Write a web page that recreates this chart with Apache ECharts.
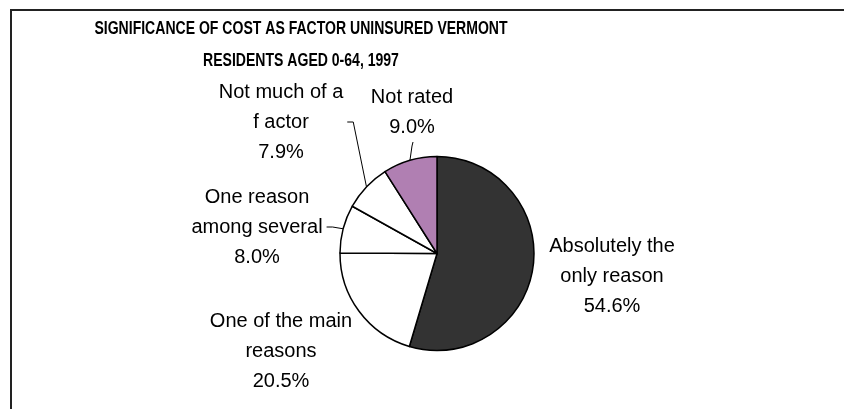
<!DOCTYPE html>
<html>
<head>
<meta charset="utf-8">
<script src="https://cdn.jsdelivr.net/npm/echarts@6/dist/echarts.min.js"></script>
<style>
  html, body { margin: 0; padding: 0; background: #fff; }
  #main { width: 844px; height: 409px; }
</style>
</head>
<body>
<div id="main"></div>
<script>
// categories and shares (%), clockwise from 12 o'clock
var categories = [
  'Absolutely the\nonly reason',
  'One of the main\nreasons',
  'One reason\namong several',
  'Not much of a\nf actor',
  'Not rated'
];
var shares = [54.6, 20.5, 8.0, 7.9, 9.0];
var titleLines = [
  'SIGNIFICANCE OF COST AS FACTOR UNINSURED VERMONT',
  'RESIDENTS AGED 0-64, 1997'
];
var sliceColors = ['#333333', '#ffffff', '#ffffff', '#ffffff', '#b07fb2'];

// label centres (px) for each slice
var labelPos = [[612, 276], [281, 351], [257, 227], [281, 122], [412, 112]];
// which side of the label the leader line meets: none / right / bottom
var leaderSide = ['none', 'none', 'right', 'right', 'bottom'];

var chart = echarts.init(document.getElementById('main'));

var pieData = categories.map(function (name, i) {
  return {
    name: name,
    value: shares[i],
    itemStyle: { color: sliceColors[i] },
    labelLine: { show: leaderSide[i] !== 'none' }
  };
});

// title is drawn narrow (the original uses a condensed bold face)
var titleGraphics = titleLines.map(function (t, i) {
  return {
    type: 'text',
    x: 301,
    y: 29 + i * 32,
    scaleX: 0.78,
    silent: true,
    style: {
      text: t,
      font: 'bold 18px "Liberation Sans", Arial, sans-serif',
      fill: '#000',
      textAlign: 'center',
      textVerticalAlign: 'middle'
    }
  };
});

var option = {
  animation: false,
  backgroundColor: '#fff',
  graphic: [{
    type: 'rect',
    shape: { x: 11, y: 10, width: 900, height: 500 },
    style: { fill: 'none', stroke: '#222', lineWidth: 2 },
    silent: true
  }].concat(titleGraphics),
  series: [{
    type: 'pie',
    center: [437, 253.5],
    radius: 97,
    startAngle: 90,
    clockwise: true,
    data: pieData,
    itemStyle: { borderColor: '#000', borderWidth: 1.5 },
    label: {
      show: true,
      position: 'outside',
      formatter: function (p) { return p.name + '\n' + p.value.toFixed(1) + '%'; },
      fontFamily: '"Liberation Sans", Arial, sans-serif',
      fontSize: 20,
      lineHeight: 30,
      color: '#000',
      align: 'center'
    },
    labelLine: {
      show: true,
      length: 8,
      length2: 6,
      lineStyle: { color: '#000', width: 1 }
    },
    labelLayout: function (params) {
      var i = params.dataIndex;
      var p = labelPos[i];
      var w = params.labelRect.width, h = params.labelRect.height;
      var res = { x: p[0], y: p[1], align: 'center', verticalAlign: 'middle' };
      var start = params.labelLinePoints && params.labelLinePoints[0];
      if (start && leaderSide[i] === 'right') {
        var right = p[0] + w / 2;
        res.labelLinePoints = [start, [right + 10, p[1]], [right + 4, p[1]]];
      } else if (start && leaderSide[i] === 'bottom') {
        var bottom = p[1] + h / 2;
        res.labelLinePoints = [start, [p[0], bottom + 4], [p[0] + 1, bottom]];
      }
      return res;
    }
  }]
};

chart.setOption(option);
</script>
</body>
</html>
